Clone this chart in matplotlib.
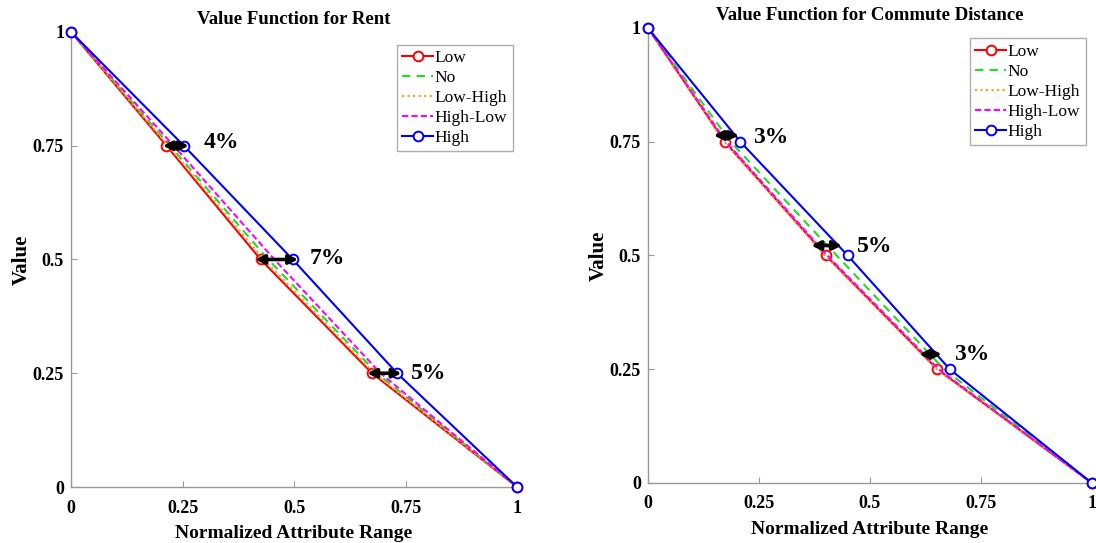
import matplotlib.pyplot as plt

plt.rcParams['font.family'] = ['Liberation Serif', 'DejaVu Serif']

levels = [1.0, 0.75, 0.5, 0.25, 0.0]
series_names = ['Low', 'No', 'Low-High', 'High-Low', 'High']

# Rent: x position of each value level per weighting scenario
rent_low = [0.0, 0.214, 0.425, 0.675, 1.0]
rent_no = [0.0, 0.222, 0.442, 0.686, 1.0]
rent_low_high = [0.0, 0.218, 0.432, 0.680, 1.0]
rent_high_low = [0.0, 0.230, 0.456, 0.694, 1.0]
rent_high = [0.0, 0.253, 0.497, 0.731, 1.0]

# Commute distance
comm_low = [0.0, 0.173, 0.401, 0.652, 1.0]
comm_no = [0.0, 0.186, 0.425, 0.667, 1.0]
comm_low_high = [0.0, 0.172, 0.399, 0.650, 1.0]
comm_high_low = [0.0, 0.176, 0.404, 0.655, 1.0]
comm_high = [0.0, 0.208, 0.450, 0.680, 1.0]

# difference annotations: (y, x_start, x_end, label, label_x, label_y)
rent_diffs = [(0.75, 0.206, 0.264, '4%', 0.298, 0.757),
              (0.50, 0.413, 0.509, '7%', 0.536, 0.503),
              (0.25, 0.664, 0.741, '5%', 0.761, 0.25)]
comm_diffs = [(0.764, 0.148, 0.205, '3%', 0.236, 0.76),
              (0.522, 0.368, 0.437, '5%', 0.470, 0.52),
              (0.283, 0.611, 0.662, '3%', 0.690, 0.282)]

colors = ['#FF0000', '#22DD22', '#E8A317', '#FF00FF', '#0000FF']
styles = ['-', (0, (4, 3)), ':', (0, (3, 1.5)), '-']
markers = ['o', None, None, None, 'o']

fig = plt.figure(figsize=(10.96, 5.43), dpi=100)
ax1 = fig.add_axes([0.0648, 0.1031, 0.407, 0.838])
ax2 = fig.add_axes([0.5912, 0.1105, 0.405, 0.838])


def draw_panel(ax, data, diffs, title, leg_anchor):
    for vals, name, c, ls, m in zip(data, series_names, colors, styles, markers):
        ax.plot(vals, levels, color=c, linestyle=ls, linewidth=1.5, marker=m,
                markersize=7, markerfacecolor='white', markeredgewidth=1.4,
                label=name, clip_on=False, zorder=3)
    for y, x0, x1, lab, lx, ly in diffs:
        ax.annotate('', xy=(x1, y), xytext=(x0, y),
                    arrowprops=dict(arrowstyle='<|-|>', color='black', lw=2.6,
                                    mutation_scale=13, shrinkA=0, shrinkB=0),
                    zorder=5)
        ax.text(lx, ly, lab, fontsize=17, fontweight='bold', va='center', ha='left')
    ax.set_xlim(0, 1)
    ax.set_ylim(0, 1)
    ax.set_xticks([0, 0.25, 0.5, 0.75, 1])
    ax.set_xticklabels(['0', '0.25', '0.5', '0.75', '1'])
    ax.set_yticks([0, 0.25, 0.5, 0.75, 1])
    ax.set_yticklabels(['0', '0.25', '0.5', '0.75', '1'])
    for side in ['top', 'right']:
        ax.spines[side].set_visible(False)
    for side in ['left', 'bottom']:
        ax.spines[side].set_color('#999999')
        ax.spines[side].set_linewidth(1.0)
    ax.tick_params(direction='in', length=4, color='#999999', labelsize=13)
    ax.tick_params(axis='x', pad=9)
    ax.tick_params(axis='y', pad=5)
    for t in ax.get_xticklabels() + ax.get_yticklabels():
        t.set_fontweight('bold')
    ax.set_title(title, fontsize=13.5, fontweight='bold', pad=6)
    ax.set_xlabel('Normalized Attribute Range', fontsize=14, fontweight='bold', labelpad=6)
    ax.set_ylabel('Value', fontsize=15, fontweight='bold', labelpad=1)
    leg = ax.legend(loc='upper right', bbox_to_anchor=leg_anchor, fontsize=12.5,
                    frameon=True, fancybox=False, handlelength=1.8, handletextpad=0.1,
                    labelspacing=0.22, borderpad=0.3, borderaxespad=0)
    leg.get_frame().set_edgecolor('#999999')
    leg.get_frame().set_linewidth(1.0)


draw_panel(ax1, [rent_low, rent_no, rent_low_high, rent_high_low, rent_high],
           rent_diffs, 'Value Function for Rent', (0.99, 0.972))
draw_panel(ax2, [comm_low, comm_no, comm_low_high, comm_high_low, comm_high],
           comm_diffs, 'Value Function for Commute Distance', (0.986, 0.977))

fig.savefig('out.png', dpi=100)
